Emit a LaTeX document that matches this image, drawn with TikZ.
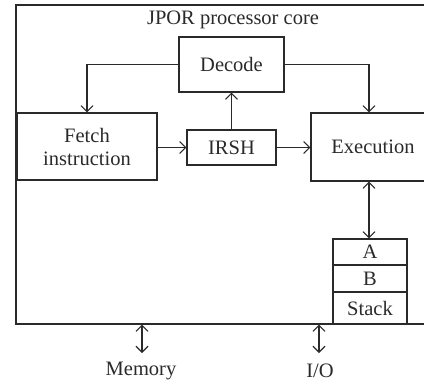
\documentclass[tikz,border=0pt]{standalone}
\usepackage{fontspec}
\setmainfont{Liberation Serif}
\usetikzlibrary{arrows.meta}
\definecolor{ink}{HTML}{2A2A2A}
\tikzset{
  blk/.style={draw=ink, line width=1.1pt, text=ink, inner sep=0pt, font=\fontsize{20.5}{23}\selectfont, align=center},
  lbl/.style={text=ink, inner sep=0pt, font=\fontsize{20.5}{23}\selectfont},
  arr/.style={draw=ink, line width=1.1pt, -{Straight Barb[length=6pt,width=12pt,line width=1.1pt]}},
  darr/.style={draw=ink, line width=1.1pt, {Straight Barb[length=6pt,width=12pt,line width=1.1pt]}-{Straight Barb[length=6pt,width=12pt,line width=1.1pt]}}
}
\begin{document}
\begin{tikzpicture}[x=1pt,y=-1pt]
\useasboundingbox (0,0) rectangle (424,383);
\node[blk, minimum width=414pt, minimum height=319pt] (core) at (223,164.5) {};
\node[lbl] (title) at (233,20) {JPOR processor core};
\node[blk, minimum width=105pt, minimum height=55pt] (dec) at (231.5,64.5) {Decode};
\node[blk, minimum width=140pt, minimum height=67pt] (fetch) at (87,146.5) {Fetch\\instruction};
\node[blk, minimum width=89pt, minimum height=35pt] (irsh) at (231.5,147.5) {IRSH};
\node[blk, minimum width=124pt, minimum height=68pt] (exec) at (373,147) {Execution};
\node[blk, minimum width=74pt, minimum height=26pt] (sa) at (370,252) {A};
\node[blk, minimum width=74pt, minimum height=27pt] (sb) at (370,278.5) {B};
\node[blk, minimum width=74pt, minimum height=32pt] (ss) at (370,308) {Stack};
\node[lbl] (mem) at (141,371) {Memory};
\node[lbl] (io) at (320,371) {I/O};
\coordinate (memtop) at (142,353);
\coordinate (iotop) at (319,353);
\draw[arr] (dec.west) -| (fetch.north);
\draw[arr] (dec.east) -| ([xshift=-4pt]exec.north);
\draw[arr] (irsh.north) -- (dec.south);
\draw[arr] (fetch.east |- irsh.west) -- (irsh.west);
\draw[arr] (irsh.east) -- (exec.west |- irsh.east);
\draw[darr] (sa.north -| 369,0) -- (exec.south -| 369,0);
\draw[darr] (core.south -| memtop) -- (memtop);
\draw[darr] (core.south -| iotop) -- (iotop);
\end{tikzpicture}
\end{document}
